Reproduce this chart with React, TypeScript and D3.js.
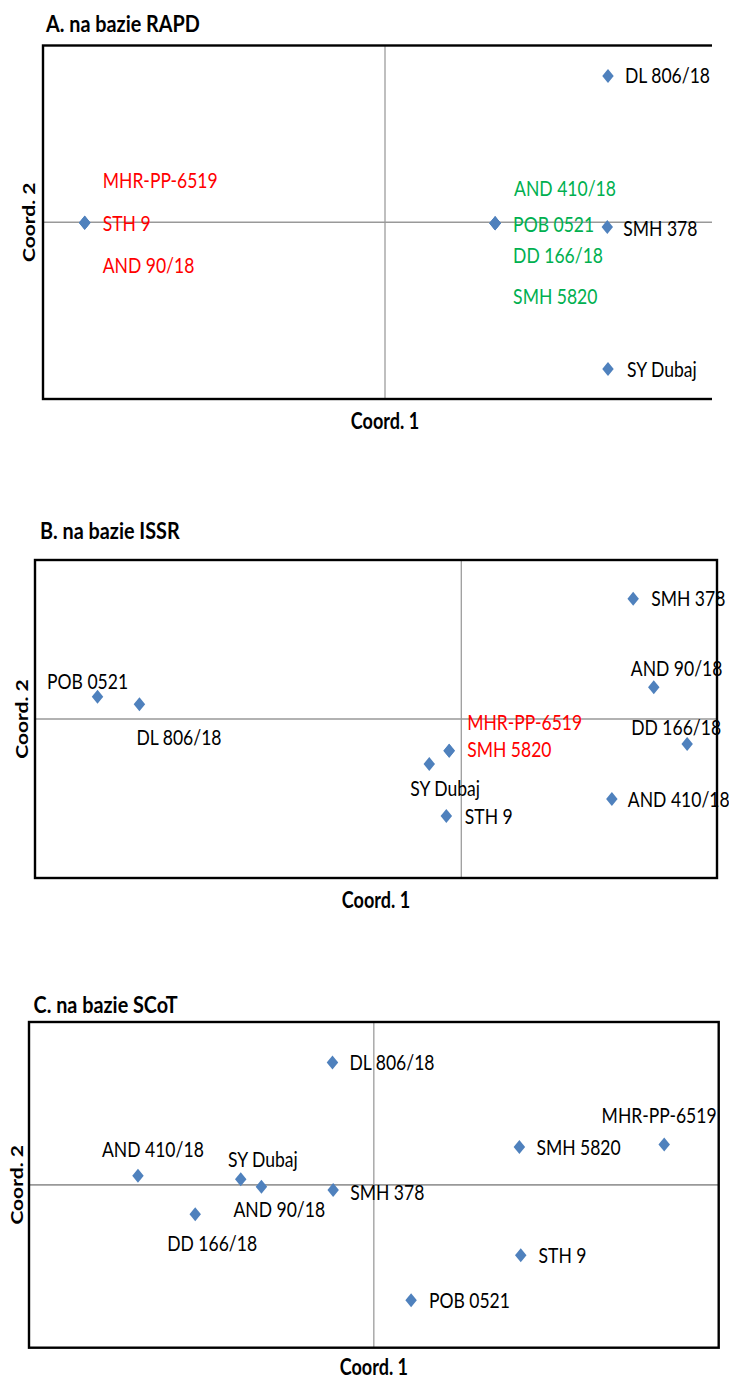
import React from "react";
import * as d3 from "d3";

// cultivars in the same order for every panel
const cultivars = ["DL 806/18", "SMH 378", "SY Dubaj", "MHR-PP-6519", "STH 9", "AND 90/18", "AND 410/18", "POB 0521", "DD 166/18", "SMH 5820"];

// A. RAPD
const rapdCoord1 = [0.326, 0.325, 0.326, -0.439, -0.439, -0.439, 0.161, 0.161, 0.161, 0.161];
const rapdCoord2 = [0.331, -0.011, -0.332, -0.001, -0.001, -0.001, -0.002, -0.002, -0.002, -0.002];
const rapdRed = ["MHR-PP-6519", "STH 9", "AND 90/18"];
const rapdGreen = ["AND 410/18", "POB 0521", "DD 166/18", "SMH 5820"];

// B. ISSR
const issrCoord1 = [-0.453, 0.242, -0.045, -0.017, -0.021, 0.271, 0.212, -0.512, 0.318, -0.017];
const issrCoord2 = [0.028, 0.227, -0.085, -0.06, -0.183, 0.06, -0.151, 0.042, -0.047, -0.06];
const issrRed = ["MHR-PP-6519", "SMH 5820"];

// C. SCoT
const scotCoord1 = [-0.06, -0.059, -0.193, 0.421, 0.213, -0.163, -0.342, 0.054, -0.259, 0.211];
const scotCoord2 = [0.188, -0.008, 0.0085, 0.062, -0.108, -0.003, 0.014, -0.177, -0.045, 0.058];

// label placement (dx, dy from the marker), same order as cultivars
const rapdLabelPos = [[17, -1], [16, 1], [19, 0], [18, -42.5], [18, 0.6], [18, 42.3], [19, -34.5], [18, 1], [18, 32], [18, 73]];
const issrLabelPos = [[-3, 33], [18, 0], [-19, 24], [18, -28], [18.5, 0], [-23, -18.5], [16, 0], [-50.5, -15], [-56, -17], [18, -1]];
const scotLabelPos = [[17, 0], [17, 2], [-12.7, -20], [-62.6, -29], [17.8, 0], [-28, 23], [-36, -26.4], [17.8, 0], [-28, 29], [17, 0]];

const SX = 0.82; // the source is squeezed horizontally
const FONT = "Lato, 'Open Sans', sans-serif";
const LABEL_SIZE = 21.4;
const CAP = 0.7165;
const RED = "#ff0000";
const GREEN = "#00b050";
const BLUE = "#4f81bd";

const diamondType = {
  draw(ctx: any, size: number) {
    const r = Math.sqrt(size / 2);
    ctx.moveTo(0, -r);
    ctx.lineTo(r, 0);
    ctx.lineTo(0, r);
    ctx.lineTo(-r, 0);
    ctx.closePath();
  },
};
const diamondPath = d3.symbol(diamondType as any, 98)() as string;

const panels = [
  {
    id: "a", title: "A. na bazie RAPD", c1: rapdCoord1, c2: rapdCoord2, pos: rapdLabelPos,
    color: (n: string) => (rapdRed.includes(n) ? RED : rapdGreen.includes(n) ? GREEN : "#000"),
    frame: { left: 43, right: 727, top: 45.5, bottom: 399 }, clipRight: 712,
    xDomain: [-0.5, 0.5], yDomain: [-0.4, 0.4],
    titleX: 46, titleY: 32.3, c1Y: 428.5, c2X: 35,
  },
  {
    id: "b", title: "B. na bazie ISSR", c1: issrCoord1, c2: issrCoord2, pos: issrLabelPos,
    color: (n: string) => (issrRed.includes(n) ? RED : "#000"),
    frame: { left: 35, right: 717, top: 560, bottom: 878 }, clipRight: 729,
    xDomain: [-0.6, 0.36], yDomain: [-0.3, 0.3],
    titleX: 40, titleY: 539.3, c1Y: 908, c2X: 28,
  },
  {
    id: "c", title: "C. na bazie SCoT", c1: scotCoord1, c2: scotCoord2, pos: scotLabelPos,
    color: (_n: string) => "#000",
    frame: { left: 29, right: 718.7, top: 1022, bottom: 1347.7 }, clipRight: 729,
    xDomain: [-0.5, 0.5], yDomain: [-0.25, 0.25],
    titleX: 33.6, titleY: 1012.7, c1Y: 1375, c2X: 23.4,
  },
];

function Txt({ x, y, children, fill = "#000", size = LABEL_SIZE, weight = 400, anchor = "start", rotate = false, sx = SX }: any) {
  const t = `translate(${x},${y}) scale(${sx},1)` + (rotate ? " rotate(-90)" : "");
  return (
    <text transform={t} fill={fill} fontSize={size} fontWeight={weight} fontFamily={FONT} textAnchor={anchor}>
      {children}
    </text>
  );
}

function Panel({ p }: { p: (typeof panels)[number] }) {
  const { frame } = p;
  const x = d3.scaleLinear().domain(p.xDomain).range([frame.left, frame.right]);
  const y = d3.scaleLinear().domain(p.yDomain).range([frame.bottom, frame.top]);
  const cx = (frame.left + frame.right) / 2;
  const cy = (frame.top + frame.bottom) / 2;
  const capHalf = (LABEL_SIZE * CAP) / 2;
  return (
    <g>
      <clipPath id={`clip-${p.id}`}>
        <rect x={0} y={frame.top - 10} width={p.clipRight} height={frame.bottom - frame.top + 20} />
      </clipPath>
      <Txt x={p.titleX} y={p.titleY} weight={700} size={22.5} sx={0.88}>{p.title}</Txt>
      <g clipPath={`url(#clip-${p.id})`}>
        <line x1={x(0)} x2={x(0)} y1={frame.top} y2={frame.bottom} stroke="#8a8a8a" strokeWidth={1.1} />
        <line x1={frame.left} x2={frame.right} y1={y(0)} y2={y(0)} stroke="#999" strokeWidth={1.6} />
        <rect x={frame.left} y={frame.top} width={frame.right - frame.left} height={frame.bottom - frame.top}
          fill="none" stroke="#000" strokeWidth={2.4} />
      </g>
      {cultivars.map((name, i) => (
        <path key={"m" + i} d={diamondPath}
          transform={`translate(${x(p.c1[i])},${y(p.c2[i])}) scale(${SX},1)`} fill={BLUE} />
      ))}
      {cultivars.map((name, i) => (
        <Txt key={"l" + i} x={x(p.c1[i]) + p.pos[i][0]} y={y(p.c2[i]) + p.pos[i][1] + capHalf} fill={p.color(name)}>
          {name}
        </Txt>
      ))}
      <Txt x={cx} y={p.c1Y} weight={700} size={22} anchor="middle">Coord. 1</Txt>
      <Txt x={p.c2X} y={cy} weight={700} size={21} anchor="middle" rotate>Coord. 2</Txt>
    </g>
  );
}

export default function App() {
  return (
    <svg width={729} height={1378} style={{ position: "absolute", left: 0, top: 0, background: "#fff", display: "block" }}>
      {panels.map((p) => (
        <Panel key={p.id} p={p} />
      ))}
    </svg>
  );
}
